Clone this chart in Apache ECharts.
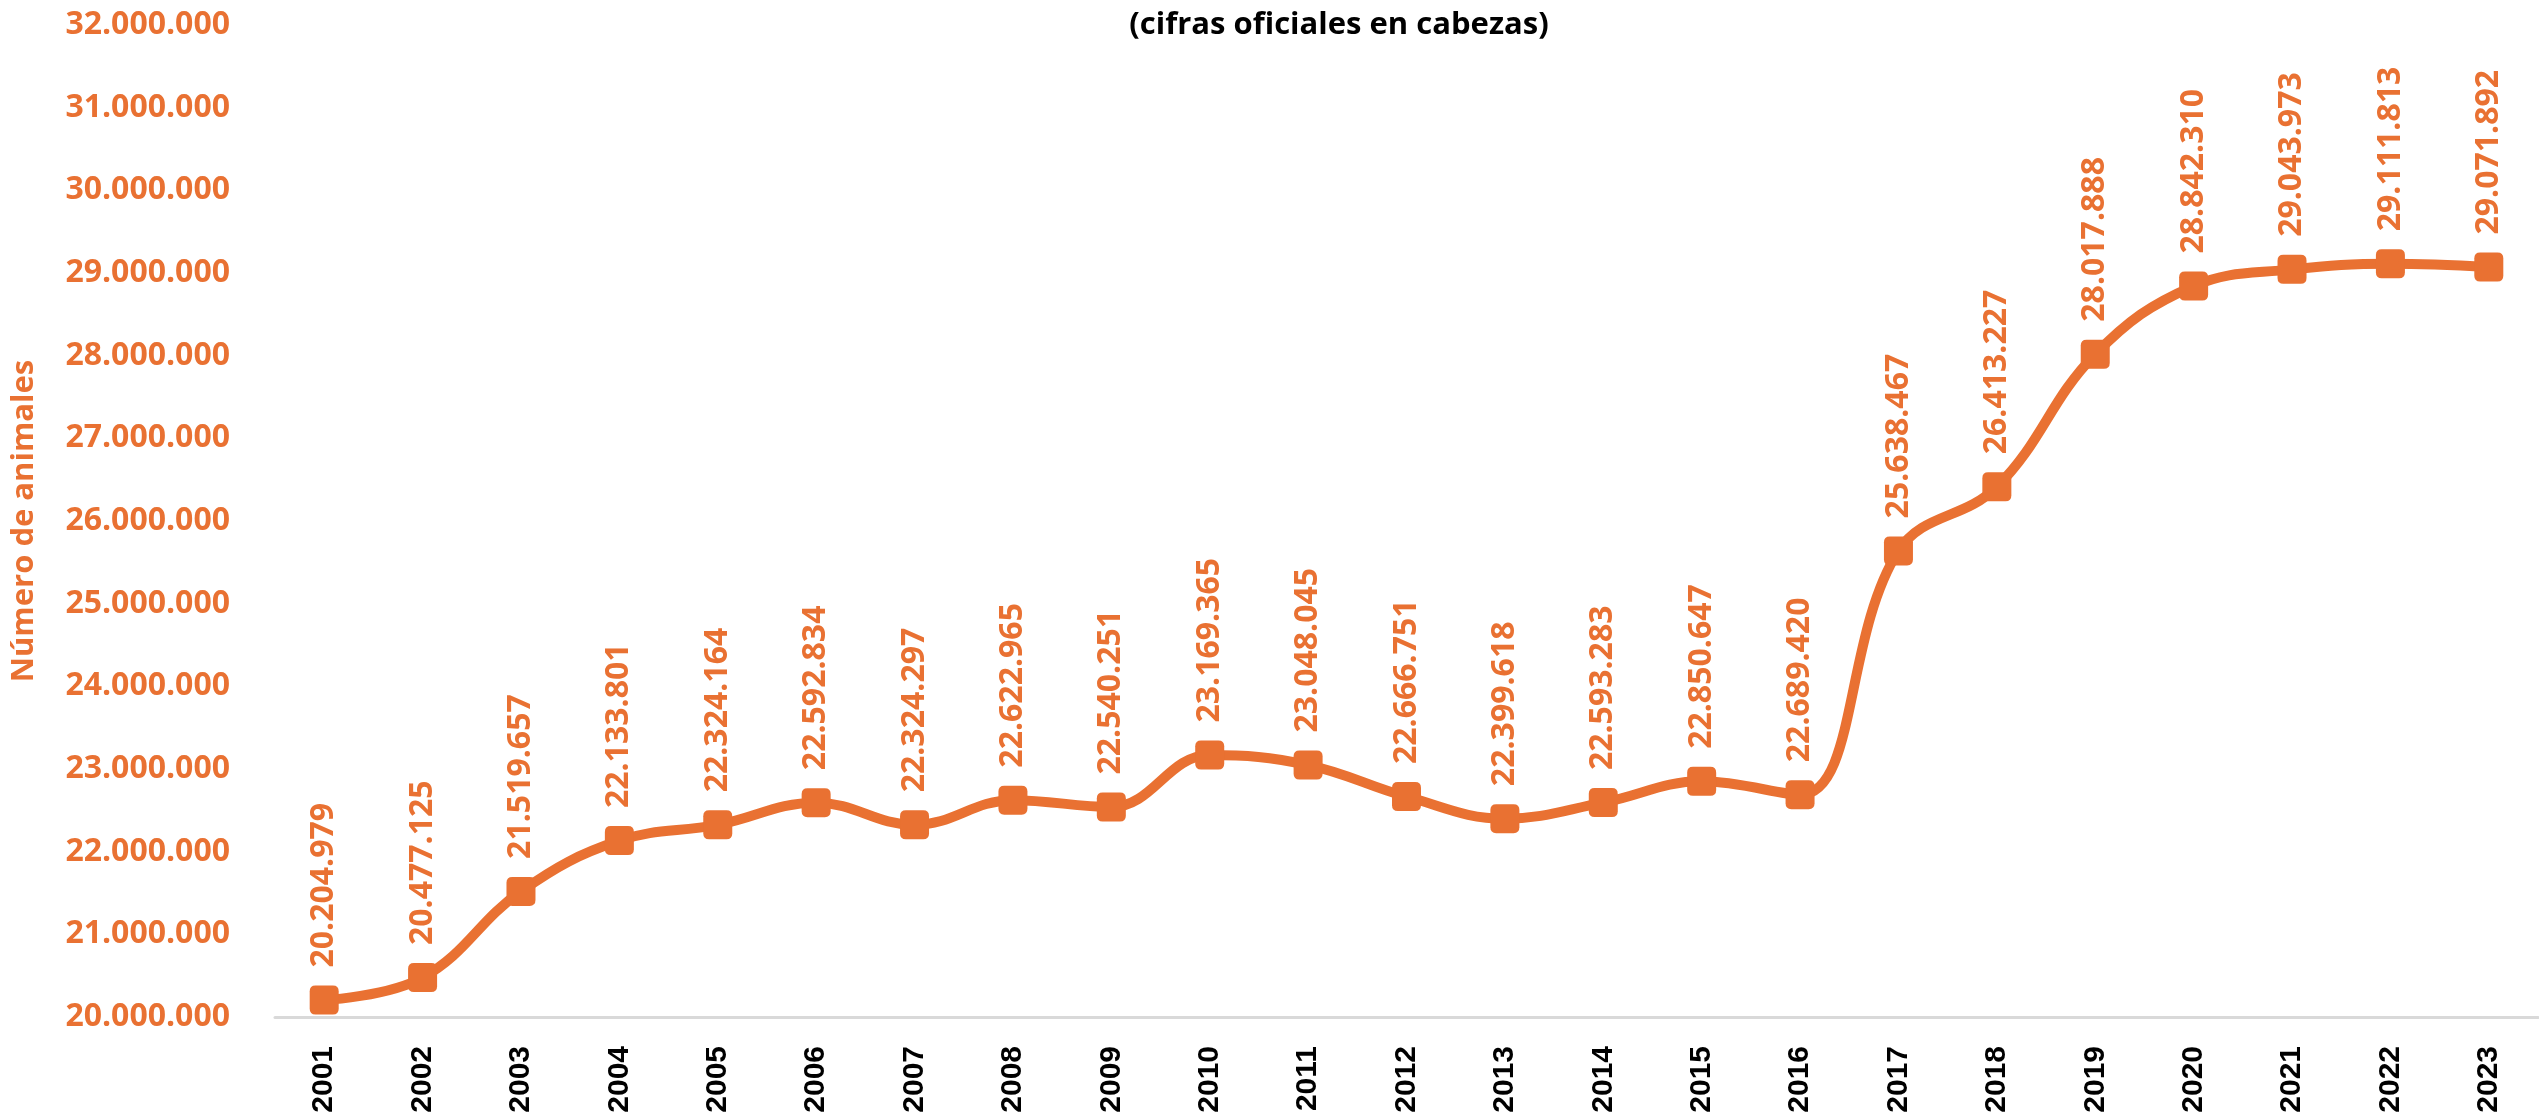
<!DOCTYPE html>
<html>
<head>
<meta charset="utf-8">
<script src="https://cdn.jsdelivr.net/npm/echarts@6/dist/echarts.min.js"></script>
<style>
html,body{margin:0;padding:0;background:#fff;}
#chart{width:2539px;height:1117px;}
</style>
</head>
<body>
<div id="chart"></div>
<script>
const years = ['2001','2002','2003','2004','2005','2006','2007','2008','2009','2010','2011','2012','2013','2014','2015','2016','2017','2018','2019','2020','2021','2022','2023'];
const animals = [20204979,20477125,21519657,22133801,22324164,22592834,22324297,22622965,22540251,23169365,23048045,22666751,22399618,22593283,22850647,22689420,25638467,26413227,28017888,28842310,29043973,29111813,29071892];
const titleText = '(cifras oficiales en cabezas)';
const yAxisName = 'Número de animales';
const yMin = 20000000, yMax = 32000000, yStep = 1000000;

const ORANGE = '#E97132';
function fmt(v){ return String(Math.round(v)).replace(/\B(?=(\d{3})+(?!\d))/g,'.'); }

const chart = echarts.init(document.getElementById('chart'));
chart.setOption({
  animation:false,
  backgroundColor:'#fff',
  title:{
    text:titleText, left:1334, top:5, textAlign:'center',
    textStyle:{fontFamily:'Open Sans', fontWeight:'bold', fontSize:31, color:'#000'}
  },
  grid:{left:275, right:1, top:25, bottom:100, containLabel:false},
  xAxis:{
    type:'category', data:years, boundaryGap:true,
    axisLine:{show:true, lineStyle:{color:'#d9d9d9', width:3}},
    axisTick:{show:false},
    axisLabel:{rotate:90, margin:29, color:'#000', fontFamily:'Liberation Sans', fontWeight:'bold', fontSize:30, interval:0}
  },
  yAxis:{
    type:'value', min:yMin, max:yMax, interval:yStep,
    name:yAxisName, nameLocation:'middle', nameGap:235,
    nameTextStyle:{color:ORANGE, fontFamily:'Open Sans', fontWeight:'bold', fontSize:31},
    axisLine:{show:false}, axisTick:{show:false}, splitLine:{show:false},
    axisLabel:{margin:45, color:ORANGE, fontFamily:'Open Sans', fontWeight:'bold', fontSize:32, formatter:fmt}
  },
  series:[{
    type:'line', data:animals, smooth:0.4,
    lineStyle:{color:ORANGE, width:10},
    itemStyle:{color:ORANGE},
    symbol:'path://M2,0 L8,0 Q10,0 10,2 L10,8 Q10,10 8,10 L2,10 Q0,10 0,8 L0,2 Q0,0 2,0 Z',
    symbolSize:29, symbolKeepAspect:true,
    label:{
      show:true, position:'top', distance:18, rotate:90, align:'left', verticalAlign:'middle',
      color:ORANGE, fontFamily:'Open Sans', fontWeight:'bold', fontSize:32,
      formatter:p=>fmt(p.value)
    }
  }]
});
</script>
</body>
</html>
